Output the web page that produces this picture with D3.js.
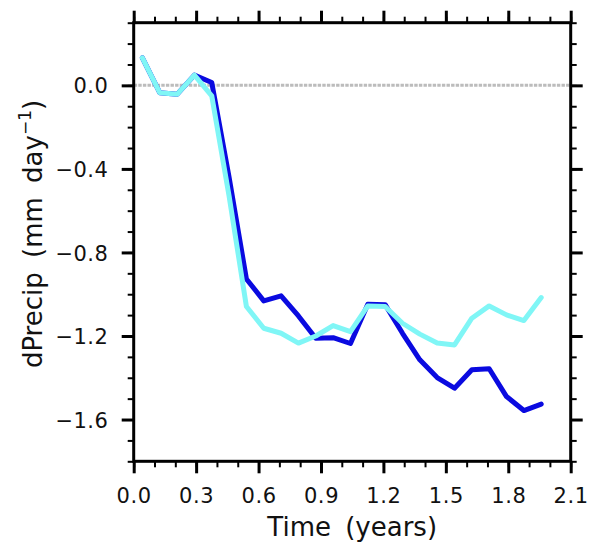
<!DOCTYPE html>
<html>
<head>
<meta charset="utf-8">
<script src="https://cdn.jsdelivr.net/npm/d3@7"></script>
<style>
  html, body { margin: 0; padding: 0; background: #fff; }
  svg { display: block; }
</style>
</head>
<body>
<svg id="chart" width="590" height="545"></svg>
<script>
// ---- data ----
const months = d3.range(24).map(i => (i + 0.5) / 12); // time in years (mid-month)
const seriesDark = [0.132, -0.035, -0.043, 0.049, 0.014, -0.44, -0.927, -1.032, -1.008, -1.104, -1.211, -1.208,
                    -1.236, -1.048, -1.050, -1.187, -1.314, -1.399, -1.450, -1.362, -1.357, -1.490, -1.557, -1.526];
const seriesLight = [0.132, -0.035, -0.043, 0.049, -0.05, -0.53, -1.059, -1.163, -1.187, -1.234, -1.200, -1.150,
                     -1.179, -1.056, -1.059, -1.139, -1.191, -1.234, -1.243, -1.115, -1.056, -1.099, -1.126, -1.016];
const xMajorTicks = [0.0, 0.3, 0.6, 0.9, 1.2, 1.5, 1.8, 2.1];
const yMajorTicks = [-1.6, -1.2, -0.8, -0.4, 0.0];
const xMinorTicks = d3.range(0, 22).map(i => i / 10);
const yMinorTicks = d3.range(-18, 4).map(i => i / 10);
const xTitle = "Time (years)";

// ---- layout ----
const L = 133.7, R = 570.7, T = 22.7, B = 461.3;
const svg = d3.select("#chart");
const x = d3.scaleLinear().domain([0, 2.1]).range([L, R]);
const y = d3.scaleLinear().domain([-1.8, 0.3]).range([B, T]);

const font = "'DejaVu Sans', sans-serif";

// zero reference line
svg.append("line")
  .attr("x1", L).attr("x2", R).attr("y1", y(0)).attr("y2", y(0))
  .attr("stroke", "#bcbcbc").attr("stroke-width", 3)
  .attr("stroke-dasharray", "3.4,1.2");

// lines
const line = d3.line().x((d, i) => x(months[i])).y(d => y(d));
svg.append("path").datum(seriesDark)
  .attr("d", line).attr("fill", "none")
  .attr("stroke", "#0a0ae0").attr("stroke-width", 5)
  .attr("stroke-linejoin", "round").attr("stroke-linecap", "round");
svg.append("path").datum(seriesLight)
  .attr("d", line).attr("fill", "none")
  .attr("stroke", "#80f6f6").attr("stroke-width", 5)
  .attr("stroke-linejoin", "round").attr("stroke-linecap", "round");

// axes
function styleAxis(g, major) {
  g.select(".domain").remove();
  g.selectAll(".tick line").attr("stroke", "#000").attr("stroke-width", major ? 3 : 2);
}
const fmt = d3.format(".1f");

// minor ticks
svg.append("g").attr("transform", `translate(0,${B})`)
  .call(d3.axisBottom(x).tickValues(xMinorTicks).tickSize(6).tickFormat(""))
  .call(g => styleAxis(g, false));
svg.append("g").attr("transform", `translate(0,${T})`)
  .call(d3.axisTop(x).tickValues(xMinorTicks).tickSize(6).tickFormat(""))
  .call(g => styleAxis(g, false));
svg.append("g").attr("transform", `translate(${L},0)`)
  .call(d3.axisLeft(y).tickValues(yMinorTicks).tickSize(6).tickFormat(""))
  .call(g => styleAxis(g, false));
svg.append("g").attr("transform", `translate(${R},0)`)
  .call(d3.axisRight(y).tickValues(yMinorTicks).tickSize(6).tickFormat(""))
  .call(g => styleAxis(g, false));

// major ticks
const gb = svg.append("g").attr("transform", `translate(0,${B})`)
  .call(d3.axisBottom(x).tickValues(xMajorTicks).tickSize(12).tickFormat(fmt))
  .call(g => styleAxis(g, true));
gb.selectAll(".tick text")
  .attr("y", 41.5).attr("dy", 0)
  .attr("font-family", font).attr("font-size", 21).attr("fill", "#111")
  .attr("letter-spacing", "0.6px");
svg.append("g").attr("transform", `translate(0,${T})`)
  .call(d3.axisTop(x).tickValues(xMajorTicks).tickSize(12).tickFormat(""))
  .call(g => styleAxis(g, true));
const gl = svg.append("g").attr("transform", `translate(${L},0)`)
  .call(d3.axisLeft(y).tickValues(yMajorTicks).tickSize(12).tickFormat(fmt))
  .call(g => styleAxis(g, true));
gl.selectAll(".tick text")
  .attr("x", -25.5).attr("dy", "0.36em")
  .attr("font-family", font).attr("font-size", 21).attr("fill", "#111")
  .attr("letter-spacing", "0.4px");
svg.append("g").attr("transform", `translate(${R},0)`)
  .call(d3.axisRight(y).tickValues(yMajorTicks).tickSize(12).tickFormat(""))
  .call(g => styleAxis(g, true));

// frame
svg.append("rect")
  .attr("x", L).attr("y", T).attr("width", R - L).attr("height", B - T)
  .attr("fill", "none").attr("stroke", "#000").attr("stroke-width", 3);

// titles
svg.append("text")
  .attr("x", (L + R) / 2).attr("y", 536)
  .attr("text-anchor", "middle")
  .attr("font-family", font).attr("font-size", 26).attr("fill", "#111")
  .attr("word-spacing", "6px")
  .text(xTitle);

const yt = svg.append("text")
  .attr("transform", `translate(41.7,${234}) rotate(-90)`)
  .attr("text-anchor", "middle")
  .attr("font-family", font).attr("font-size", 26).attr("fill", "#111")
  .attr("word-spacing", "6px");
yt.append("tspan").text("dPrecip (mm day");
yt.append("tspan").attr("dy", -11).attr("font-size", 17).text("−1");
yt.append("tspan").attr("dy", 11).text(")");
</script>
</body>
</html>
